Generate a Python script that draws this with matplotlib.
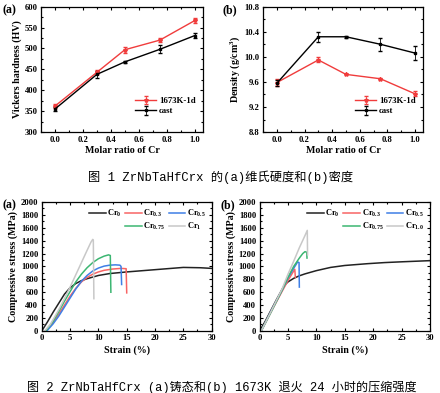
import matplotlib
matplotlib.use("Agg")
import matplotlib.pyplot as plt
from matplotlib.lines import Line2D
from matplotlib.ticker import MultipleLocator, FormatStrFormatter

# ------------------------------------------------------------
# Data
# ------------------------------------------------------------
cr_ratio = [0.0, 0.3, 0.5, 0.75, 1.0]

hv_annealed = [362, 443, 497, 520, 567]
hv_annealed_err = [5, 5, 7, 4, 5]
hv_cast = [355, 438, 468, 498, 531]
hv_cast_err = [5, 8, 3, 10, 5]

rho_annealed = [9.59, 9.95, 9.72, 9.65, 9.41]
rho_annealed_err = [0.05, 0.04, 0.01, 0.02, 0.04]
rho_cast = [9.58, 10.32, 10.32, 10.20, 10.06]
rho_cast_err = [0.05, 0.08, 0.02, 0.10, 0.11]

# compression curves, as-cast
cast_cr0_strain = [0, 1, 2, 3, 4, 5, 6, 7, 8, 10, 12, 15, 20, 25, 28, 30]
cast_cr0_stress = [0, 140, 290, 430, 570, 670, 735, 780, 810, 860, 890, 915, 950, 985, 980, 970]
cast_cr03_strain = [0.8, 2, 3, 4, 5, 6, 7, 8, 9, 10, 11, 12.5, 14, 14.9, 15.0]
cast_cr03_stress = [0, 130, 260, 400, 540, 660, 760, 830, 880, 915, 940, 960, 970, 965, 590]
cast_cr05_strain = [0.9, 2, 3, 4, 5, 6, 7, 8, 9, 10, 11, 12, 13, 13.8, 14.0, 14.1]
cast_cr05_stress = [0, 110, 230, 370, 510, 650, 770, 860, 930, 975, 1005, 1020, 1025, 1020, 1000, 720]
cast_cr075_strain = [0.7, 2, 3, 4, 5, 6, 7, 8, 9, 10, 11, 11.8, 12.1, 12.2]
cast_cr075_stress = [0, 150, 300, 460, 610, 760, 880, 980, 1060, 1120, 1160, 1180, 1170, 600]
cast_cr1_strain = [0.5, 1.5, 3, 4, 5, 6, 7, 8, 8.7, 9.0, 9.1, 9.2]
cast_cr1_stress = [0, 100, 330, 500, 680, 870, 1060, 1250, 1380, 1420, 1410, 500]

# compression curves, 1673 K / 24 h
ann_cr0_strain = [0, 1, 2, 3, 4, 4.5, 5, 6, 7, 8, 10, 12.5, 15, 19, 22, 25, 30]
ann_cr0_stress = [0, 150, 320, 490, 650, 720, 760, 815, 855, 885, 935, 985, 1015, 1043, 1060, 1072, 1090]
ann_cr03_strain = [0.3, 2, 4, 5, 5.8, 6.2, 6.3]
ann_cr03_stress = [0, 290, 620, 780, 900, 955, 830]
ann_cr05_strain = [0.3, 2, 4, 5, 6, 6.7, 6.95, 7.0]
ann_cr05_stress = [0, 300, 640, 820, 970, 1070, 1060, 680]
ann_cr075_strain = [0.3, 2, 4, 5, 6, 7, 7.6, 8.0, 8.3, 8.35]
ann_cr075_stress = [0, 290, 640, 830, 1000, 1130, 1200, 1230, 1220, 1130]
ann_cr1_strain = [0.3, 2, 4, 5, 6, 7, 8, 8.4, 8.45]
ann_cr1_stress = [0, 300, 660, 880, 1080, 1290, 1480, 1560, 1180]

cast_labels = ["Cr$_0$", "Cr$_{0.3}$", "Cr$_{0.5}$", "Cr$_{0.75}$", "Cr$_1$"]
ann_labels = ["Cr$_0$", "Cr$_{0.3}$", "Cr$_{0.5}$", "Cr$_{0.75}$", "Cr$_{1.0}$"]
curve_colors = ["#222222", "#f86464", "#3f7fe6", "#3cb672", "#c8c8c8"]

caption1 = "图 1 ZrNbTaHfCrx 的(a)维氏硬度和(b)密度"
caption2 = "图 2 ZrNbTaHfCrx (a)铸态和(b) 1673K 退火 24 小时的压缩强度"

# ------------------------------------------------------------
# Style
# ------------------------------------------------------------
plt.rcParams["font.family"] = ["Liberation Serif", "DejaVu Serif"]
plt.rcParams["font.weight"] = "bold"
plt.rcParams["axes.labelweight"] = "bold"
plt.rcParams["mathtext.fontset"] = "custom"
plt.rcParams["mathtext.rm"] = "Liberation Serif:bold"
plt.rcParams["mathtext.it"] = "Liberation Serif:bold"
plt.rcParams["mathtext.bf"] = "Liberation Serif:bold"

RED = "#f03c3c"
TICK_FS = 6.2
LABEL_FS = 7.2
CAP_FONT = ["Liberation Mono", "Noto Sans CJK SC"]


def style_axes(ax, major_x, minor_x, major_y, minor_y, fmt_x, fmt_y):
    ax.xaxis.set_major_locator(MultipleLocator(major_x))
    ax.xaxis.set_minor_locator(MultipleLocator(minor_x))
    ax.yaxis.set_major_locator(MultipleLocator(major_y))
    ax.yaxis.set_minor_locator(MultipleLocator(minor_y))
    ax.xaxis.set_major_formatter(FormatStrFormatter(fmt_x))
    ax.yaxis.set_major_formatter(FormatStrFormatter(fmt_y))
    ax.tick_params(which="both", direction="in", top=True, right=True,
                   labelsize=TICK_FS, width=0.8, pad=2.5)
    ax.tick_params(which="major", length=2.5)
    ax.tick_params(which="minor", length=1.5)
    for sp in ax.spines.values():
        sp.set_linewidth(0.9)


fig = plt.figure(figsize=(4.4, 3.93), dpi=100)

# ------------------------------------------------------------
# Fig. 1 (a) hardness
# ------------------------------------------------------------
ax1 = fig.add_axes([0.093, 0.664, 0.369, 0.319])
ax1.errorbar(cr_ratio, hv_annealed, yerr=hv_annealed_err, color=RED, lw=1.0,
             marker="*", ms=3, capsize=1.5, elinewidth=0.6, label="1673K-1d")
ax1.errorbar(cr_ratio, hv_cast, yerr=hv_cast_err, color="black", lw=1.0,
             marker="s", ms=1.8, capsize=1.5, elinewidth=0.6, label="cast")
ax1.set_xlim(-0.1, 1.06)
ax1.set_ylim(300, 600)
style_axes(ax1, 0.2, 0.1, 50, 25, "%.1f", "%d")
ax1.set_xlabel("Molar ratio of Cr", fontsize=LABEL_FS, labelpad=2)
ax1.set_ylabel("Vickers hardness (HV)", fontsize=LABEL_FS, labelpad=2)
ax1.legend(loc="lower right", frameon=False, fontsize=6.3, handlelength=2.4,
           handletextpad=0.3, bbox_to_anchor=(1.0, 0.07), labelspacing=0.25)
fig.text(0.005, 0.975, "(a)", fontsize=8.5, fontweight="bold", va="center")

# ------------------------------------------------------------
# Fig. 1 (b) density
# ------------------------------------------------------------
ax2 = fig.add_axes([0.598, 0.664, 0.364, 0.319])
ax2.errorbar(cr_ratio, rho_annealed, yerr=rho_annealed_err, color=RED, lw=1.0,
             marker="*", ms=3, capsize=1.5, elinewidth=0.6, label="1673K-1d")
ax2.errorbar(cr_ratio, rho_cast, yerr=rho_cast_err, color="black", lw=1.0,
             marker="s", ms=1.8, capsize=1.5, elinewidth=0.6, label="cast")
ax2.set_xlim(-0.1, 1.06)
ax2.set_ylim(8.8, 10.8)
style_axes(ax2, 0.2, 0.1, 0.4, 0.2, "%.1f", "%.1f")
ax2.set_xlabel("Molar ratio of Cr", fontsize=LABEL_FS, labelpad=2)
ax2.set_ylabel("Density (g/cm$^3$)", fontsize=LABEL_FS, labelpad=2)
ax2.legend(loc="lower right", frameon=False, fontsize=6.3, handlelength=2.4,
           handletextpad=0.3, bbox_to_anchor=(1.0, 0.07), labelspacing=0.25)
fig.text(0.505, 0.975, "(b)", fontsize=8.5, fontweight="bold", va="center")

fig.text(0.502, 0.548, caption1, fontsize=8.8, ha="center", va="center",
         family=CAP_FONT, fontweight="normal")

# ------------------------------------------------------------
# Fig. 2 compression curves
# ------------------------------------------------------------
cast_curves = [
    (cast_cr0_strain, cast_cr0_stress),
    (cast_cr03_strain, cast_cr03_stress),
    (cast_cr05_strain, cast_cr05_stress),
    (cast_cr075_strain, cast_cr075_stress),
    (cast_cr1_strain, cast_cr1_stress),
]
ann_curves = [
    (ann_cr0_strain, ann_cr0_stress),
    (ann_cr03_strain, ann_cr03_stress),
    (ann_cr05_strain, ann_cr05_stress),
    (ann_cr075_strain, ann_cr075_stress),
    (ann_cr1_strain, ann_cr1_stress),
]


def stress_panel(rect, curves, labels, tag, tag_x):
    ax = fig.add_axes(rect)
    handles = []
    for (x, y), lab, col in zip(curves, labels, curve_colors):
        h, = ax.plot(x, y, color=col, lw=1.1, label=lab)
        handles.append(h)
    ax.set_xlim(0, 30)
    ax.set_ylim(0, 2000)
    style_axes(ax, 5, 2.5, 200, 100, "%d", "%d")
    ax.set_xlabel("Strain (%)", fontsize=LABEL_FS, labelpad=2)
    ax.set_ylabel("Compressive stress (MPa)", fontsize=LABEL_FS, labelpad=2)
    # row 1: Cr0, Cr0.3, Cr0.5 ; row 2: (blank), Cr0.75, Cr1
    blank = Line2D([], [], color="none")
    order = [handles[0], blank, handles[1], handles[3], handles[2], handles[4]]
    names = [labels[0], "", labels[1], labels[3], labels[2], labels[4]]
    ax.legend(order, names, loc="upper right", ncol=3, frameon=False,
              fontsize=6.0, handlelength=2.0, handletextpad=0.2,
              columnspacing=0.4, labelspacing=0.2, borderaxespad=0.3)
    fig.text(tag_x, 0.478, tag, fontsize=8.5, fontweight="bold", va="center")
    return ax


stress_panel([0.095, 0.158, 0.386, 0.328], cast_curves, cast_labels, "(a)", 0.005)
stress_panel([0.590, 0.158, 0.387, 0.328], ann_curves, ann_labels, "(b)", 0.5)

fig.text(0.505, 0.015, caption2, fontsize=8.7, ha="center", va="center",
         family=CAP_FONT, fontweight="normal")

fig.savefig("out.png", dpi=100)
